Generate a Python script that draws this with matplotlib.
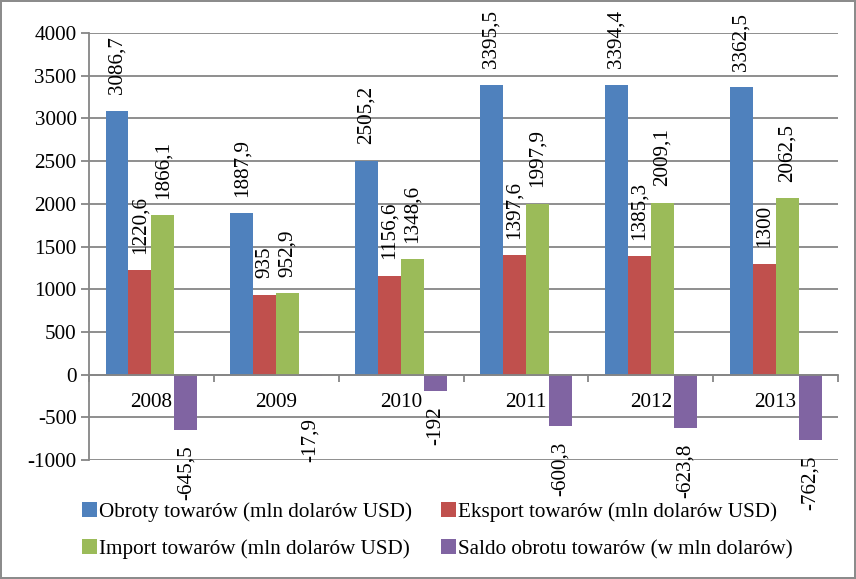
import numpy as np
import matplotlib.pyplot as plt
from matplotlib.patches import Patch

plt.rcParams["font.family"] = ["Liberation Serif", "DejaVu Serif"]
plt.rcParams["axes.unicode_minus"] = False

years = ["2008", "2009", "2010", "2011", "2012", "2013"]
obroty = [3086.7, 1887.9, 2505.2, 3395.5, 3394.4, 3362.5]
eksport = [1220.6, 935, 1156.6, 1397.6, 1385.3, 1300]
import_ = [1866.1, 952.9, 1348.6, 1997.9, 2009.1, 2062.5]
saldo = [-645.5, -17.9, -192, -600.3, -623.8, -762.5]

names = [
    "Obroty towarów (mln dolarów USD)",
    "Eksport towarów (mln dolarów USD)",
    "Import towarów (mln dolarów USD)",
    "Saldo obrotu towarów (w mln dolarów)",
]
colors = ["#4F81BD", "#C0504D", "#9BBB59", "#8064A2"]
series = [obroty, eksport, import_, saldo]

grid_col = "#868686"
fs = 15.2


def fmt(v):
    return "{:g}".format(v).replace(".", ",")


fig = plt.figure(figsize=(8.56, 5.79), dpi=100, edgecolor="#8c8c8c", linewidth=1.5)
ax = fig.add_axes([0.104, 0.2055, 0.875, 0.7375])

x = np.arange(len(years))
w = 0.184

for i, (vals, col) in enumerate(zip(series, colors)):
    pos = x + (i - 1.5) * w
    ax.bar(pos, vals, width=w, color=col, zorder=3)
    for p, v in zip(pos, vals):
        if v >= 0:
            off = 12
            va = "bottom"
        else:
            # small negative bars: Excel pushes the label below the axis text
            off = -11 if abs(v) > 100 else -30
            va = "top"
        ax.annotate(fmt(v), (p, v), xytext=(0, off), textcoords="offset points",
                    rotation=90, ha="center", va=va, fontsize=fs, zorder=4)

ax.set_xlim(-0.5, len(years) - 0.5)
ax.set_ylim(-1000, 4000)
ax.set_yticks(np.arange(-1000, 4001, 500))
ax.yaxis.grid(True, color=grid_col, linewidth=1.3, zorder=0)
ax.tick_params(axis="y", length=6, color=grid_col, width=1.3, labelsize=fs, pad=3)

ax.set_xticks(x)
ax.set_xticklabels(years)
ax.set_xticks(np.arange(-0.5, len(years)), minor=True)
ax.tick_params(axis="x", which="major", length=0, labelsize=fs, pad=13)
ax.tick_params(axis="x", which="minor", length=5, color=grid_col, width=1.3)

for s in ["top", "right"]:
    ax.spines[s].set_visible(False)
ax.spines["left"].set_color(grid_col)
ax.spines["left"].set_linewidth(1.3)
ax.spines["bottom"].set_position(("data", 0))
ax.spines["bottom"].set_color(grid_col)
ax.spines["bottom"].set_linewidth(1.3)
ax.spines["bottom"].set_zorder(5)

# row-wise legend order (matplotlib fills columns first)
order = [0, 2, 1, 3]
handles = [Patch(facecolor=colors[k], edgecolor="none") for k in order]
labels = [names[k] for k in order]
fig.legend(handles, labels, ncol=2, loc="upper left", bbox_to_anchor=(0.086, 0.148),
           frameon=False, fontsize=fs, handlelength=0.7, handleheight=0.7,
           handletextpad=0.12, columnspacing=1.35, labelspacing=0.85, borderaxespad=0)

fig.savefig("out.png", dpi=100)
